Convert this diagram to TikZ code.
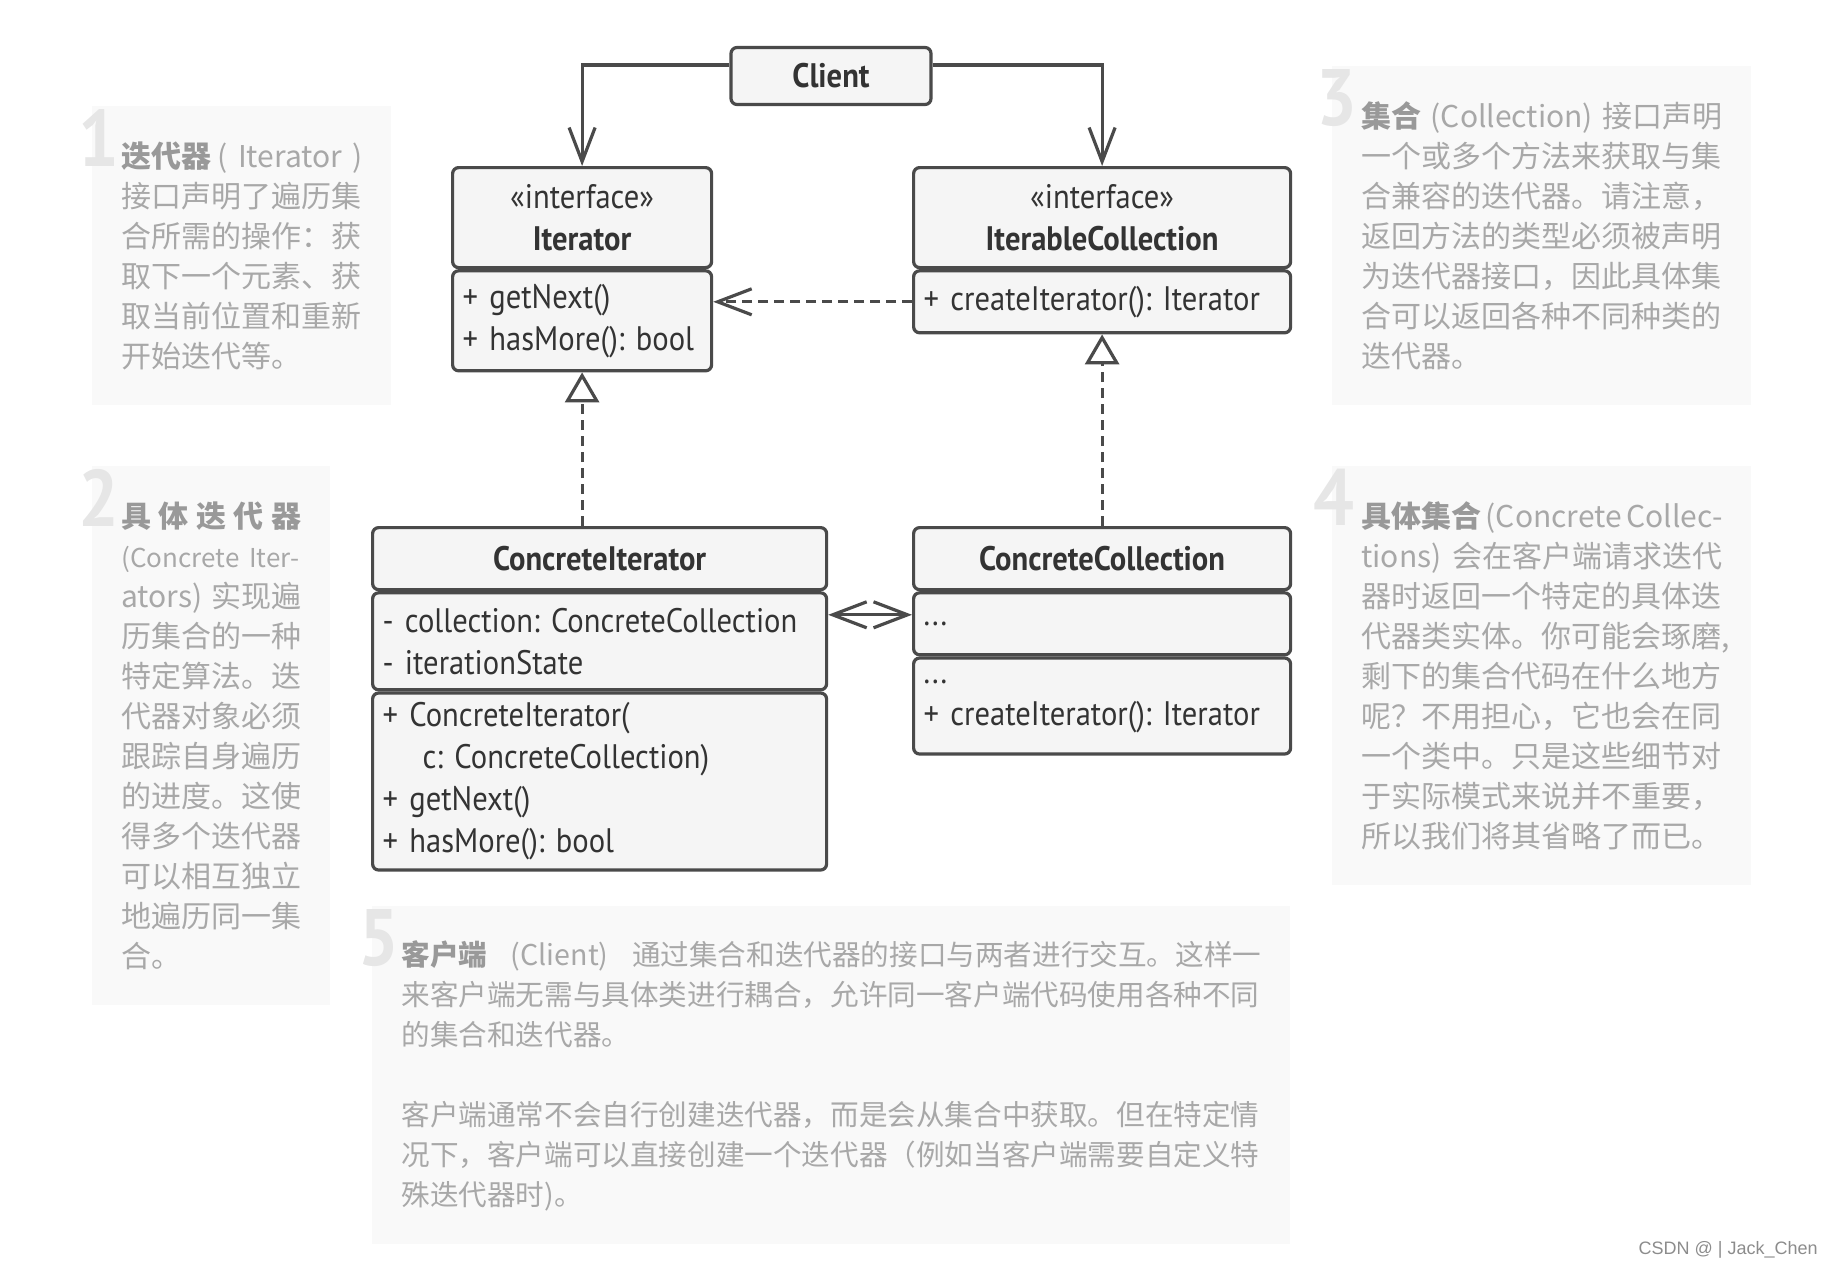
\documentclass[tikz,border=0pt]{standalone}
\usepackage{fontspec}
\setmainfont{PT Sans}[FakeStretch=0.9]
\newfontfamily\cjk{Noto Sans CJK SC}
\newfontfamily\wmfont{Liberation Sans}
\usetikzlibrary{positioning,arrows.meta}
\definecolor{boxline}{HTML}{4A4A4A}
\definecolor{boxfill}{HTML}{F5F5F5}
\definecolor{boxtext}{HTML}{333333}
\definecolor{notefill}{HTML}{F9F9F9}
\definecolor{notetext}{HTML}{A8A8A8}
\definecolor{notehead}{HTML}{999999}
\definecolor{numgray}{HTML}{E6E6E6}
\definecolor{wmgray}{HTML}{8C8C8C}
\newcommand\umlfont{\frenchspacing\fontsize{17}{21}\selectfont}
\newcommand\notefont{\cjk\fontsize{15}{20}\selectfont}
\newcommand\numfont{\fontsize{40}{40}\selectfont\bfseries}

\begin{document}
\begin{tikzpicture}[x=1pt, y=1pt, >={Straight Barb[length=17pt,width=13pt]}]
\tikzset{
umlpart/.style={draw=boxline, fill=boxfill, line width=1.6pt, rounded corners=3pt,
  inner xsep=5pt, inner ysep=0pt, text=boxtext, font=\umlfont},
umlhead/.style={umlpart, align=center, font=\umlfont\bfseries},
umlbody/.style={umlpart, align=left},
notebox/.style={fill=notefill, anchor=north west, inner xsep=14.5pt, inner ysep=0pt,
  align=left, text=notetext, font=\notefont},
bignum/.style={anchor=north west, inner sep=0pt, text=numgray, font=\numfont},
dep/.style={dash pattern=on 5pt off 3pt}
}
\useasboundingbox (0,0) rectangle (922.5,-634.5);

\node[notebox, text width=120.5pt, minimum height=149.5pt] (note1) at (46,-53) {
  {\bfseries\color{notehead}迭代器}\hfill(~Iterator~)\\
  接口声明了遍历集\\
  合所需的操作：获\\
  取下一个元素、获\\
  取当前位置和重新\\
  开始迭代等。};
\node[notebox, text width=90pt, minimum height=269.5pt] (note2) at (46,-233) {
  {\bfseries\color{notehead}具\hfill 体\hfill 迭\hfill 代\hfill 器}\\
  \mbox{\fontsize{13}{20}\selectfont(Concrete~Iter-}\\
  ators)\hfill 实现遍\\
  历集合的一种\\
  特定算法。迭\\
  代器对象必须\\
  跟踪自身遍历\\
  的进度。这使\\
  得多个迭代器\\
  可以相互独立\\
  地遍历同一集\\
  合。};
\node[notebox, text width=180.5pt, minimum height=169.5pt] (note3) at (666,-33) {
  {\bfseries\color{notehead}集合}\hfill(Collection)\hfill 接口声明\\
  一个或多个方法来获取与集\\
  合兼容的迭代器。请注意，\\
  返回方法的类型必须被声明\\
  为迭代器接口，因此具体集\\
  合可以返回各种不同种类的\\
  迭代器。};
\node[notebox, text width=180.5pt, minimum height=209.5pt] (note4) at (666,-233) {
  {\bfseries\color{notehead}具体集合}\hfill(Concrete\hfill Collec-\\
  tions)\hfill 会在客户端请求迭代\\
  器时返回一个特定的具体迭\\
  代器类实体。你可能会琢磨,\\
  剩下的集合代码在什么地方\\
  呢？不用担心，它也会在同\\
  一个类中。只是这些细节对\\
  于实际模式来说并不重要，\\
  所以我们将其省略了而已。};
\node[notebox, text width=430pt, minimum height=169pt,
  font=\cjk\fontsize{14.3}{20}\selectfont] (note5) at (186,-453) {
  {\bfseries\color{notehead}客户端}\hfill(Client)\hfill 通过集合和迭代器的接口与两者进行交互。这样一\\
  来客户端无需与具体类进行耦合，允许同一客户端代码使用各种不同\\
  的集合和迭代器。\\[20pt]
  客户端通常不会自行创建迭代器，而是会从集合中获取。但在特定情\\
  况下，客户端可以直接创建一个迭代器（例如当客户端需要自定义特\\
  殊迭代器时)。};

\node[bignum] (num1) at ([xshift=-7pt,yshift=-1.5pt]note1.north west) {1};
\node[bignum] (num2) at ([xshift=-7pt,yshift=-1.5pt]note2.north west) {2};
\node[bignum] (num3) at ([xshift=-8pt,yshift=-1.5pt]note3.north west) {3};
\node[bignum] (num4) at ([xshift=-9.5pt,yshift=-1.5pt]note4.north west) {4};
\node[bignum] (num5) at ([xshift=-7pt,yshift=-1.5pt]note5.north west) {5};

\node[umlhead, minimum width=100pt, minimum height=28.5pt] (client) at (415.5,-38) {Client};

\node[umlhead, anchor=north west, text width=119.5pt, minimum height=50pt] (ithead) at (225.5,-83)
  {{\mdseries «interface»}\\Iterator};
\node[umlbody, below=0pt of ithead, text width=119.5pt, minimum height=50pt] (itbody)
  {+ getNext()\\+ hasMore(): bool};

\node[umlhead, anchor=north west, text width=178.5pt, minimum height=50pt] (colhead) at (456,-83)
  {{\mdseries «interface»}\\IterableCollection};
\node[umlbody, below=0pt of colhead, text width=178.5pt, minimum height=31pt] (colbody)
  {+ createIterator(): Iterator};

\node[umlhead, anchor=north west, text width=217pt, minimum height=31pt] (cithead) at (185.5,-263)
  {ConcreteIterator};
\node[umlbody, below=0pt of cithead, text width=217pt, minimum height=48.5pt] (citfields)
  {- collection: ConcreteCollection\\- iterationState};
\node[umlbody, below=0pt of citfields, text width=217pt, minimum height=88.5pt] (citmethods)
  {+ ConcreteIterator(\\\hspace*{20pt}c: ConcreteCollection)\\+ getNext()\\+ hasMore(): bool};

\node[umlhead, anchor=north west, text width=178.5pt, minimum height=31pt] (cchead) at (456,-263)
  {ConcreteCollection};
\node[umlbody, below=0pt of cchead, text width=178.5pt, minimum height=31pt] (ccfields)
  {...};
\node[umlbody, below=0pt of ccfields, text width=178.5pt, minimum height=48pt] (ccmethods)
  {...\\+ createIterator(): Iterator};

\coordinate (bidir) at ([yshift=4.5pt]ccfields.west);

\begin{scope}[draw=boxline, line width=1.6pt]
    \draw[->] ([yshift=5.5pt]client.west) -| (ithead.north);
    \draw[->] ([yshift=5.5pt]client.east) -| (colhead.north);
    \draw[dep, ->] (colbody.west) -- (colbody.west -| itbody.east);
    \draw[dep, -{Triangle[open, length=15pt, width=17pt]}] (itbody.south |- cithead.north) -- (itbody.south);
    \draw[dep, -{Triangle[open, length=15pt, width=17pt]}] (colbody.south |- cchead.north) -- (colbody.south);
    \draw[<->] (citfields.east |- bidir) -- (bidir);
\end{scope}

\node[anchor=east, inner sep=0pt, text=wmgray, font=\wmfont\fontsize{9}{9}\selectfont] (wmark)
  at (909,-625) {CSDN @ | Jack\_Chen};

\end{tikzpicture}
\end{document}
